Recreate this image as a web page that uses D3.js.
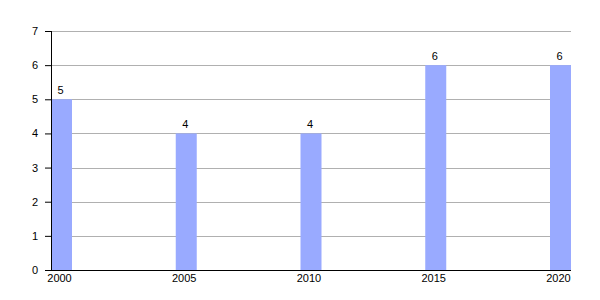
<!DOCTYPE html>
<html>
<head>
<meta charset="utf-8">
<script src="https://cdn.jsdelivr.net/npm/d3@7"></script>
<style>
  body { margin: 0; background: #fff; }
  text { font-family: "Liberation Sans", Arial, sans-serif; font-size: 11px; fill: #000; }
</style>
</head>
<body>
<div id="chart"></div>
<script>
// data
const years = [2000, 2005, 2010, 2015, 2020];
const counts = [5, 4, 4, 6, 6];
const yTicks = [0, 1, 2, 3, 4, 5, 6, 7];

let margin = {top: 31, right: 29, bottom: 30, left: 51},
    width = 600 - margin.left - margin.right,
    height = 300 - margin.top - margin.bottom;

let barWidth = 21;

let x = d3.scaleLinear().domain([2000, 2020]).range([0, width - barWidth]);
let y = d3.scaleLinear().domain([0, 7]).range([height, 0]);

let svg = d3.select("#chart").append("svg")
    .attr("width", 600)
    .attr("height", 300)
  .append("g")
    .attr("transform", "translate(" + margin.left + "," + margin.top + ")");

// horizontal grid lines
svg.selectAll(".grid")
    .data(yTicks.filter(d => d > 0))
    .enter().append("line")
    .attr("x1", 0)
    .attr("x2", width)
    .attr("y1", d => Math.round(y(d)) + 0.5)
    .attr("y2", d => Math.round(y(d)) + 0.5)
    .attr("stroke", "#b0b0b0")
    .attr("stroke-width", 1);

let data = years.map((yr, i) => ({year: yr, count: counts[i]}));

// bars
svg.selectAll(".bar")
    .data(data)
    .enter().append("rect")
    .attr("class", "bar")
    .attr("x", d => x(d.year))
    .attr("width", barWidth)
    .attr("y", d => y(d.count))
    .attr("height", d => height - y(d.count))
    .attr("fill", "#99aaff");

// value labels
svg.selectAll(".val")
    .data(data)
    .enter().append("text")
    .attr("x", d => x(d.year) + barWidth / 2 - 1)
    .attr("y", d => y(d.count) - 5)
    .attr("text-anchor", "middle")
    .text(d => d.count);

// y axis
let yAxis = svg.append("g")
    .call(d3.axisLeft(y).tickValues(yTicks).tickSize(6).tickPadding(7).tickFormat(d3.format("d")));
yAxis.select(".domain").attr("stroke", "#000").attr("d", "M-6,0.5H0.5V" + (height + 0.5));
yAxis.selectAll(".tick line").attr("stroke", "#000");
yAxis.selectAll("text").style("font-size", "11px");
yAxis.select(".domain").attr("d", "M0.5,0V" + height);

// x axis
let xAxis = svg.append("g")
    .attr("transform", "translate(0," + height + ")");
xAxis.append("line")
    .attr("x1", 0).attr("x2", width)
    .attr("y1", 0.5).attr("y2", 0.5)
    .attr("stroke", "#000");
xAxis.selectAll(".xlab")
    .data(years)
    .enter().append("text")
    .attr("x", d => x(d) + barWidth / 2 - 2)
    .attr("y", 12)
    .attr("text-anchor", "middle")
    .text(d => d);
</script>
</body>
</html>
